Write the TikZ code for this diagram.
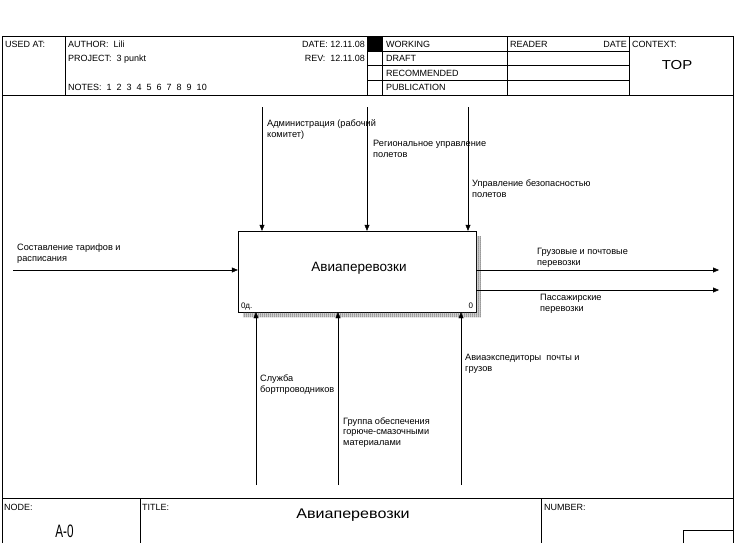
\documentclass[tikz,border=0pt]{standalone}
\usepackage{fontspec}
\setmainfont{Liberation Sans}
\newfontfamily\widefont{Liberation Sans}[FakeStretch=1.15]
\newfontfamily\narrowfont{Liberation Sans}[FakeStretch=0.65]
\usetikzlibrary{arrows.meta,patterns.meta}

\begin{document}
\begin{tikzpicture}[x=1pt,y=1pt,
    arr/.style={-{Triangle[length=6pt,width=5pt]}},
    lbl/.style={anchor=base west,align=left,font=\fontsize{9.2}{11}\selectfont},
    hdr/.style={anchor=base west,font=\fontsize{9}{10}\selectfont}]
    \tikzstyle{every node}+=[inner sep=0pt]
    \useasboundingbox (0,0) rectangle (746,-543);
    % frame
    \draw (2,-543) -- (2,-36.5) -- (733,-36.5) -- (733,-543);
    \draw (2,-95) -- (733,-95);
    \draw (2,-498) -- (733,-498);
    % header
    \draw (65,-36.5) -- (65,-95);
    \draw (367,-36.5) -- (367,-95);
    \draw (382,-36.5) -- (382,-95);
    \draw (507,-36.5) -- (507,-95);
    \draw (629,-36.5) -- (629,-95);
    \draw (367,-51) -- (629,-51);
    \draw (367,-65.5) -- (629,-65.5);
    \draw (367,-80) -- (629,-80);
    \fill [black] (367,-36.5) rectangle (382,-51);
    \node[hdr] (usedat) at (5,-47.5) {USED AT:};
    \node[hdr] (author) at (68,-47.5) {AUTHOR:\ \ Lili};
    \node[hdr] (project) at (68,-61) {PROJECT:\ \ 3 punkt};
    \node[hdr] (notes) at (68,-90) {NOTES:\ \ 1\ \ 2\ \ 3\ \ 4\ \ 5\ \ 6\ \ 7\ \ 8\ \ 9\ \ 10};
    \node[hdr,anchor=base east] (date) at (365,-47.5) {DATE: 12.11.08};
    \node[hdr,anchor=base east] (rev) at (365,-61) {REV:\ \ 12.11.08};
    \node[hdr] (working) at (386,-47.5) {WORKING};
    \node[hdr] (draft) at (386,-61.5) {DRAFT};
    \node[hdr] (recommended) at (386,-76) {RECOMMENDED};
    \node[hdr] (publication) at (386,-90.5) {PUBLICATION};
    \node[hdr] (reader) at (510,-47.5) {READER};
    \node[hdr,anchor=base east] (rdate) at (627,-47.5) {DATE};
    \node[hdr] (context) at (632,-47.5) {CONTEXT:};
    \node[anchor=base,font=\widefont\fontsize{13}{14}\selectfont] (top) at (677,-69) {TOP};
    % footer
    \draw (140,-498) -- (140,-543);
    \draw (541,-498) -- (541,-543);
    \draw (683,-543) -- (683,-530) -- (733,-530);
    \node[hdr] (node) at (4,-510.5) {NODE:};
    \node[hdr] (title) at (142,-510.5) {TITLE:};
    \node[hdr] (number) at (544,-510.5) {NUMBER:};
    \node[anchor=base,font=\narrowfont\fontsize{18}{18}\selectfont] (nodeid) at (64.5,-537) {A-0};
    \node[anchor=base,font=\widefont\fontsize{14}{15}\selectfont] (titletext) at (353,-518) {Авиаперевозки};
    % activity box
    \node[draw,fill=white,minimum width=238,minimum height=81] (box) at (357,-271.5) {};
    \node[anchor=base,font=\fontsize{13.5}{14}\selectfont] (boxtext) at (359,-271) {Авиаперевозки};
    \path[pattern={Dots[distance=2pt,radius=0.75pt]},pattern color=black!80] ([yshift=-5pt]box.north east) -- ++(5,0) |- ([xshift=5pt,yshift=-5pt]box.south west) -- ++(0,5) -| cycle;
    \node[hdr,font=\fontsize{8}{9}\selectfont] (ref) at ([xshift=3pt,yshift=3.5pt]box.south west) {0д.};
    \node[hdr,anchor=base east,font=\fontsize{8}{9}\selectfont] (num) at ([xshift=-3pt,yshift=3.5pt]box.south east) {0};
    % controls
    \coordinate (c1) at (262,-107);
    \coordinate (c2) at (367,-107);
    \coordinate (c3) at (468,-107);
    \draw[arr] (c1) -- (c1 |- box.north);
    \draw[arr] (c2) -- (c2 |- box.north);
    \draw[arr] (c3) -- (c3 |- box.north);
    \node[lbl] (l1) at (267,-137) {Администрация (рабочий\\комитет)};
    \node[lbl] (l2) at (373,-157.5) {Региональное управление\\полетов};
    \node[lbl] (l3) at (472,-197) {Управление безопасностью\\полетов};
    % input
    \coordinate (i1) at (13,-270);
    \draw[arr] (i1) -- (i1 -| box.west);
    \node[lbl] (l4) at (17,-261) {Составление тарифов и\\расписания};
    % outputs
    \coordinate (o1) at (719,-270);
    \coordinate (o2) at (719,-290);
    \draw[arr] (o1 -| box.east) -- (o1);
    \draw[arr] (o2 -| box.east) -- (o2);
    \node[lbl] (l5) at (537,-265) {Грузовые и почтовые\\перевозки};
    \node[lbl] (l6) at (540,-311) {Пассажирские\\перевозки};
    % mechanisms
    \coordinate (m1) at (256,-485);
    \coordinate (m2) at (338,-485);
    \coordinate (m3) at (461,-485);
    \draw[arr] (m1) -- (m1 |- box.south);
    \draw[arr] (m2) -- (m2 |- box.south);
    \draw[arr] (m3) -- (m3 |- box.south);
    \node[lbl] (l7) at (260,-392.5) {Служба\\бортпроводников};
    \node[lbl,font=\fontsize{9.2}{10.5}\selectfont] (l8) at (343,-445) {Группа обеспечения\\горюче-смазочными\\материалами};
    \node[lbl] (l9) at (465,-371.5) {Авиаэкспедиторы\ \ почты и\\грузов};
\end{tikzpicture}
\end{document}
